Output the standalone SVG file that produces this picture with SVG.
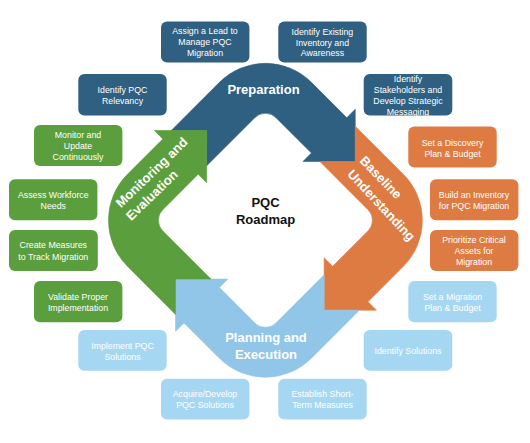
<svg xmlns="http://www.w3.org/2000/svg" width="530" height="443" viewBox="0 0 530 443">
<defs>
<style>
.box text{font-family:"Liberation Sans",Arial,sans-serif;font-size:8.8px;fill:#fff;text-anchor:middle}
.lab{font-family:"Liberation Sans",Arial,sans-serif;font-size:13px;font-weight:bold;fill:#fff;text-anchor:middle}
.ctr{font-family:"Liberation Sans",Arial,sans-serif;font-size:13px;font-weight:bold;fill:#111;text-anchor:middle}
.db rect{fill:#2F5F81}
.or rect{fill:#DE7B42}
.gr rect{fill:#5B9E3D}
.lb rect{fill:#A6D7F2}
</style>
<path id="seg" d="M -94.1 -89.86 L -45.96 -137.96 A 65 65 0 0 1 45.96 -137.96 L 81.37 -102.59 L 89.85 -111.07 L 89.86 -58.74 L 37.53 -58.75 L 46.01 -67.23 L 10.6 -102.6 A 15 15 0 0 0 -10.6 -102.6 L -58.74 -54.5 L -58.74 -89.86 Z"/>
</defs>
<rect width="530" height="443" fill="#fff"/>

<g id="cycle">
<g id="preparation">
<use href="#seg" transform="translate(265.4 220.3)" fill="#2F5F81" stroke="#2F5F81" stroke-width="0.6"/>
<text class="lab" x="263.5" y="94.3">Preparation</text>
</g>
<g id="baseline-understanding">
<use href="#seg" transform="translate(265.4 220.3) rotate(90)" fill="#DE7B42" stroke="#DE7B42" stroke-width="0.6"/>
<text class="lab" transform="translate(381 177.3) rotate(46)" y="4.7">Baseline</text>
<text class="lab" transform="translate(381.5 205) rotate(47)" y="4.7">Understanding</text>
</g>
<g id="planning-execution">
<use href="#seg" transform="translate(265.4 220.3) rotate(180)" fill="#92C6E9" stroke="#92C6E9" stroke-width="0.6"/>
<text class="lab" x="266" y="342.3">Planning and</text>
<text class="lab" x="266" y="359.3">Execution</text>
</g>
<g id="monitoring-evaluation">
<use href="#seg" transform="translate(265.4 220.3) rotate(270)" fill="#5B9E3D" stroke="#5B9E3D" stroke-width="0.6"/>
<text class="lab" transform="translate(151.5 172.3) rotate(-44)" y="4.7">Monitoring and</text>
<text class="lab" transform="translate(151.7 195) rotate(-44)" y="4.7">Evaluation</text>
</g>
</g>

<g id="center">
<text class="ctr" x="265.5" y="207">PQC</text>
<text class="ctr" x="265.5" y="223.7">Roadmap</text>
</g>

<g id="connectors"></g>

<g id="b1" class="box db"><rect x="161" y="21.5" width="88.4" height="41" rx="6"/><text x="205" y="34">Assign a Lead to</text><text x="205" y="45.3">Manage PQC</text><text x="205" y="56">Migration</text></g>
<g id="b2" class="box db"><rect x="278.3" y="21.5" width="88.4" height="41" rx="6"/><text x="322.4" y="34.5">Identify Existing</text><text x="322.4" y="45.5">Inventory and</text><text x="322.4" y="56">Awareness</text></g>
<g id="b3" class="box db"><rect x="78.3" y="74" width="88.4" height="41.5" rx="6"/><text x="122.5" y="92.5">Identify PQC</text><text x="122.5" y="103.5">Relevancy</text></g>
<g id="b4" class="box db"><rect x="363.7" y="74" width="88.6" height="41.5" rx="6"/><text x="408" y="82">Identify</text><text x="408" y="93">Stakeholders and</text><text x="408" y="103.8">Develop Strategic</text><text x="408" y="114.5">Messaging</text></g>
<g id="b5" class="box gr"><rect x="34" y="125" width="88.4" height="41" rx="6"/><text x="78" y="137.5">Monitor and</text><text x="78" y="148.7">Update</text><text x="78" y="159.5">Continuously</text></g>
<g id="b6" class="box or"><rect x="408.3" y="126.5" width="88.4" height="41" rx="6"/><text x="452.5" y="145.5">Set a Discovery</text><text x="452.5" y="156.5">Plan &amp; Budget</text></g>
<g id="b7" class="box gr"><rect x="9" y="179.3" width="88.4" height="41" rx="6"/><text x="53.3" y="197.5">Assess Workforce</text><text x="53.3" y="208.5">Needs</text></g>
<g id="b8" class="box or"><rect x="430" y="179.3" width="88.4" height="41" rx="6"/><text x="474" y="197.5">Build an Inventory</text><text x="474" y="208.5">for PQC Migration</text></g>
<g id="b9" class="box gr"><rect x="9" y="230" width="88.8" height="41" rx="6"/><text x="53.3" y="248.2">Create Measures</text><text x="53.3" y="259.5">to Track Migration</text></g>
<g id="b10" class="box or"><rect x="430" y="230" width="88.4" height="41" rx="6"/><text x="474" y="242.5">Prioritize Critical</text><text x="474" y="253.5">Assets for</text><text x="474" y="264.5">Migration</text></g>
<g id="b11" class="box gr"><rect x="34" y="281" width="88.4" height="41.3" rx="6"/><text x="78" y="299.7">Validate Proper</text><text x="78" y="311">Implementation</text></g>
<g id="b12" class="box lb"><rect x="408.3" y="281" width="88.4" height="41.3" rx="6"/><text x="452.5" y="299.7">Set a Migration</text><text x="452.5" y="310.7">Plan &amp; Budget</text></g>
<g id="b13" class="box lb"><rect x="78.3" y="330" width="88.4" height="40.7" rx="6"/><text x="122.5" y="348.5">Implement PQC</text><text x="122.5" y="359.5">Solutions</text></g>
<g id="b14" class="box lb"><rect x="363.7" y="330" width="88.6" height="40.7" rx="6"/><text x="408" y="353.5">Identify Solutions</text></g>
<g id="b15" class="box lb"><rect x="161" y="378.7" width="88.4" height="40.7" rx="6"/><text x="205" y="397">Acquire/Develop</text><text x="205" y="408">PQC Solutions</text></g>
<g id="b16" class="box lb"><rect x="278.3" y="378.7" width="88.4" height="40.7" rx="6"/><text x="322.5" y="397">Establish Short-</text><text x="322.5" y="408">Term Measures</text></g>
</svg>
